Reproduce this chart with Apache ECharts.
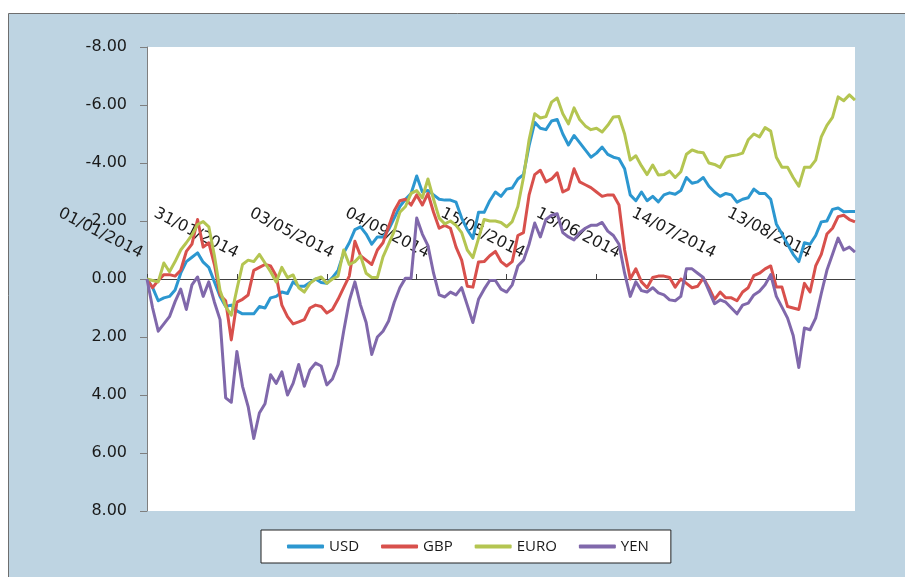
<!DOCTYPE html>
<html>
<head>
<meta charset="utf-8">
<script src="https://cdn.jsdelivr.net/npm/echarts@6/dist/echarts.min.js"></script>
<style>
  html, body { margin: 0; padding: 0; background: #ffffff; }
  #chart { width: 905px; height: 577px; }
</style>
</head>
<body>
<div id="chart"></div>
<script>
// tick labels shown along the zero line (one every labelStep points)
const tickLabels = ['01/01/2014', '31/01/2014', '03/05/2014', '04/09/2014',
  '15/05/2014', '13/06/2014', '14/07/2014', '13/08/2014'];
const labelStep = 17;
const tickStep = 16;

const seriesNames = ['USD', 'GBP', 'EURO', 'YEN'];

const usd = [0.0, 0.3, 0.75, 0.65, 0.6, 0.38, -0.2, -0.6, -0.75, -0.9,
  -0.58, -0.4, 0.1, 0.6, 0.95, 0.9, 1.1, 1.2, 1.2, 1.2,
  0.95, 1.0, 0.65, 0.6, 0.45, 0.5, 0.1, 0.25, 0.25, 0.12,
  0.0, 0.12, 0.15, -0.05, -0.3, -0.9, -1.25, -1.7, -1.8, -1.55,
  -1.2, -1.45, -1.45, -1.7, -2.1, -2.5, -2.75, -2.95, -3.55, -3.0,
  -3.05, -2.9, -2.75, -2.72, -2.72, -2.65, -2.1, -1.7, -1.4, -2.3,
  -2.3, -2.7, -3.0, -2.85, -3.1, -3.14, -3.45, -3.6, -4.6, -5.4,
  -5.2, -5.15, -5.45, -5.5, -5.0, -4.62, -4.95, -4.7, -4.45, -4.2,
  -4.34, -4.55, -4.3, -4.2, -4.15, -3.8, -2.9, -2.7, -3.0, -2.7,
  -2.85, -2.66, -2.9, -2.97, -2.92, -3.05, -3.5, -3.3, -3.35, -3.5,
  -3.2, -3.0, -2.85, -2.95, -2.9, -2.65, -2.75, -2.8, -3.1, -2.95,
  -2.95, -2.75, -1.9, -1.55, -1.2, -0.85, -0.6, -1.25, -1.2, -1.5,
  -1.97, -2.0, -2.4, -2.45, -2.32, -2.33, -2.33];

const gbp = [0.0, 0.3, 0.05, -0.15, -0.15, -0.1, -0.3, -0.95, -1.2, -2.05,
  -1.1, -1.25, -0.5, 0.55, 0.75, 2.1, 0.8, 0.7, 0.55, -0.3,
  -0.4, -0.5, -0.45, -0.1, 0.9, 1.3, 1.55, 1.48, 1.4, 1.0,
  0.9, 0.95, 1.17, 1.05, 0.7, 0.3, -0.1, -1.3, -0.8, -0.65,
  -0.5, -1.0, -1.25, -1.8, -2.35, -2.7, -2.75, -2.55, -2.9, -2.55,
  -2.95, -2.3, -1.75, -1.85, -1.75, -1.1, -0.65, 0.25, 0.28, -0.59,
  -0.6, -0.8, -0.95, -0.6, -0.45, -0.6, -1.5, -1.6, -2.9, -3.6,
  -3.75, -3.35, -3.45, -3.66, -3.0, -3.1, -3.8, -3.35, -3.25, -3.15,
  -3.0, -2.85, -2.9, -2.9, -2.55, -1.0, 0.0, -0.35, 0.1, 0.3,
  -0.05, -0.1, -0.1, -0.05, 0.28, 0.0, 0.15, 0.3, 0.25, -0.03,
  0.3, 0.7, 0.45, 0.65, 0.65, 0.75, 0.45, 0.3, -0.12, -0.2,
  -0.35, -0.45, 0.28, 0.28, 0.95, 1.0, 1.05, 0.15, 0.45, -0.45,
  -0.85, -1.55, -1.75, -2.15, -2.2, -2.05, -1.97];

const euro = [0.0, 0.05, 0.1, -0.55, -0.25, -0.6, -1.0, -1.25, -1.52, -1.88,
  -1.98, -1.8, -0.8, 0.4, 0.95, 1.25, 0.35, -0.5, -0.65, -0.6,
  -0.85, -0.55, -0.25, 0.1, -0.4, -0.05, -0.14, 0.3, 0.45, 0.15,
  0.0, -0.07, 0.15, 0.0, -0.1, -1.0, -0.5, -0.6, -0.8, -0.2,
  -0.05, -0.05, -0.76, -1.2, -1.65, -2.3, -2.5, -2.95, -3.05, -2.8,
  -3.45, -2.75, -2.1, -1.9, -2.0, -1.85, -1.6, -1.0, -0.74, -1.4,
  -2.05, -2.0, -2.0, -1.95, -1.8, -1.98, -2.5, -3.5, -4.8, -5.7,
  -5.55, -5.6, -6.1, -6.24, -5.7, -5.35, -5.9, -5.5, -5.28, -5.15,
  -5.2, -5.07, -5.3, -5.59, -5.6, -5.0, -4.1, -4.25, -3.9, -3.6,
  -3.93, -3.59, -3.6, -3.72, -3.5, -3.7, -4.3, -4.45, -4.38, -4.35,
  -4.0, -3.95, -3.85, -4.2, -4.25, -4.28, -4.34, -4.8, -5.0, -4.9,
  -5.22, -5.1, -4.2, -3.85, -3.85, -3.5, -3.2, -3.85, -3.85, -4.1,
  -4.9, -5.3, -5.57, -6.28, -6.15, -6.35, -6.17];

const yen = [0.0, 1.0, 1.8, 1.55, 1.3, 0.78, 0.35, 1.05, 0.2, -0.07,
  0.6, 0.1, 0.8, 1.4, 4.1, 4.25, 2.5, 3.7, 4.4, 5.5,
  4.62, 4.3, 3.3, 3.6, 3.2, 4.0, 3.6, 2.95, 3.7, 3.14,
  2.9, 3.0, 3.65, 3.45, 2.95, 1.8, 0.75, 0.1, 0.9, 1.5,
  2.6, 2.0, 1.8, 1.45, 0.8, 0.3, -0.03, -0.03, -2.1, -1.55,
  -1.15, -0.2, 0.55, 0.62, 0.45, 0.55, 0.3, 0.9, 1.5, 0.7,
  0.35, 0.05, 0.05, 0.35, 0.45, 0.2, -0.45, -0.65, -1.2, -1.93,
  -1.45, -2.05, -2.2, -2.25, -1.6, -1.45, -1.35, -1.6, -1.75, -1.85,
  -1.85, -1.95, -1.65, -1.5, -1.2, -0.2, 0.6, 0.1, 0.4, 0.45,
  0.3, 0.48, 0.55, 0.72, 0.75, 0.6, -0.35, -0.35, -0.2, -0.05,
  0.4, 0.85, 0.72, 0.8, 1.0, 1.2, 0.9, 0.83, 0.55, 0.42,
  0.2, -0.15, 0.6, 0.97, 1.35, 1.95, 3.05, 1.69, 1.75, 1.35,
  0.5, -0.3, -0.85, -1.41, -1.0, -1.1, -0.93];

const colors = ['#2c97d0', '#d8504c', '#b4c551', '#8068ab'];

// category list: date text only where a label is shown
const categories = usd.map((v, i) =>
  (i % labelStep === 0 && tickLabels[i / labelStep]) ? tickLabels[i / labelStep] : '');

const values = [usd, gbp, euro, yen];

const gridTop = 47;
const gridHeight = 464;

const option = {
  animation: false,
  backgroundColor: '#ffffff',
  graphic: [{
    type: 'rect',
    z: -10,
    shape: { x: 8.5, y: 13.5, width: 910, height: 580 },
    style: { fill: '#bed4e2', stroke: '#6e6e6e', lineWidth: 1 },
  }],
  grid: {
    left: 147,
    top: gridTop,
    width: 708,
    height: gridHeight,
    show: true,
    backgroundColor: '#ffffff',
    borderWidth: 0,
  },
  legend: {
    data: seriesNames,
    left: 261,
    top: 530,
    padding: [9, 22, 9, 26],
    backgroundColor: '#ffffff',
    borderColor: '#222222',
    borderWidth: 1,
    itemWidth: 37,
    itemHeight: 4,
    itemGap: 22,
    icon: 'roundRect',
    textStyle: { fontFamily: 'Open Sans', fontSize: 15, color: '#1a1a1a' },
  },
  xAxis: {
    type: 'category',
    data: categories,
    boundaryGap: false,
    // the axis crosses at value 0, which sits mid-height on the -8..8 scale
    offset: -gridHeight / 2,
    axisLine: { onZero: false, lineStyle: { color: '#404040', width: 1 } },
    axisTick: { inside: true, length: 5, interval: tickStep - 1, lineStyle: { color: '#404040' } },
    axisLabel: {
      inside: true,
      interval: labelStep - 1,
      rotate: -27,
      margin: 22,
      padding: [0, 6, 0, 0],
      fontFamily: 'DejaVu Sans',
      fontSize: 16,
      color: '#1a1a1a',
    },
    splitLine: { show: false },
  },
  yAxis: {
    type: 'value',
    inverse: true,
    min: -8,
    max: 8,
    interval: 2,
    axisLine: { show: true, lineStyle: { color: '#7f7f7f' } },
    axisTick: { show: true, length: 7, lineStyle: { color: '#7f7f7f' } },
    axisLabel: {
      margin: 20,
      formatter: (v) => v.toFixed(2),
      fontFamily: 'DejaVu Sans',
      fontSize: 16,
      color: '#1a1a1a',
    },
    splitLine: { show: false },
  },
  series: seriesNames.map((name, i) => ({
    name: name,
    type: 'line',
    data: values[i],
    showSymbol: false,
    symbol: 'none',
    color: colors[i],
    lineStyle: { width: 3, color: colors[i], join: 'round' },
  })),
};

const chart = echarts.init(document.getElementById('chart'));
chart.setOption(option);
</script>
</body>
</html>
